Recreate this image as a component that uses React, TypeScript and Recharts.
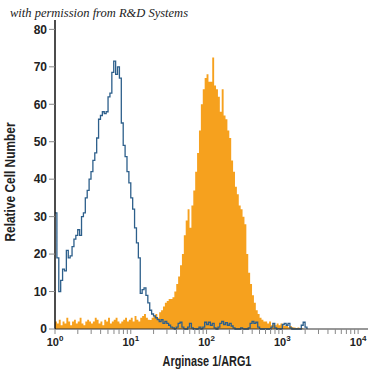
import React from "react";
import { ComposedChart, Area, Line, XAxis, YAxis } from "recharts";

// histogram channels: 40 bins per decade, starting at 10^0
const binsPerDecade = 40;

// isotype control (blue outline)
const isotypeCounts = [
  31, 19, 10, 13, 16, 15.5, 21, 19, 19.5, 22,
  24, 25, 26.5, 25, 30, 31, 35, 37, 40, 42,
  45, 47, 51, 56, 57, 58, 57.5, 58, 62, 63,
  68.5, 71.5, 68, 70, 67, 55, 49, 46, 42, 39,
  35, 32, 27, 23, 19, 9.5, 10.5, 11, 9, 7,
  5, 4, 3.5, 3, 2.5, 2, 2.5, 1.5, 2, 1.5,
  1, 0.5, 0.3, 0, 0.5, 1.5, 1.8, 0.5, 0, 0,
  0.5, 1.5, 0.3, 0, 0, 0, 0.5, 0, 0.5, 1.8,
  1.2, 1.8, 1, 1.5, 0.3, 0, 0.5, 1.5, 2, 1.2,
  1.7, 1, 1.5, 0.8, 0.3, 0, 0, 0, 0.3, 0,
  0, 0, 0.3, 1.5, 2, 1.5, 1.8, 0.5, 0, 0,
  0, 0, 0, 0, 0.5, 1.5, 0.3, 0, 0, 0,
  1.2, 1.5, 1, 1.5, 0.3, 0, 0, 0, 0, 0,
  1, 1.8, 0.5, 0,
];

// Arginase 1 stained cells (orange fill)
const stainedCounts = [
  2, 1.5, 2.5, 1, 2, 1.5, 3, 2, 1, 2,
  2.5, 1.5, 2, 3, 1.5, 1, 2, 2.5, 2, 1.5,
  2, 3, 2.5, 1.5, 2, 1, 2.5, 2, 3, 1.5,
  2, 2.5, 3, 2, 1.5, 2, 2.5, 3, 2, 2.5,
  3, 2, 3.5, 2.5, 2, 3, 3.5, 4, 3, 2.5,
  2.4, 3, 3.5, 4, 3, 4.5, 5, 6, 7, 7.5,
  8, 8, 8.5, 10, 12, 14, 17, 20, 25, 29,
  32, 27, 33, 37, 42, 47, 53, 60, 64, 67,
  68, 66, 66, 72.5, 65, 64, 62, 58, 64, 57,
  56, 53, 51, 45, 42, 38, 36, 33, 32, 30,
  28, 20, 15, 12, 9, 7, 5, 4, 3, 2.5,
  2, 2, 1.5, 2, 1, 1.5, 1, 1.5, 1, 1.5,
  1, 0.8, 1.2, 0.5, 0.8, 0.5, 0.4, 0.3, 0.4, 0.2,
  0.2, 0,
];

const decades = [1, 10, 100, 1000, 10000];
const yTicks = [0, 10, 20, 30, 40, 50, 60, 70, 80];

const nBins = Math.max(isotypeCounts.length, stainedCounts.length);
const data = Array.from({ length: nBins }, (_, i) => ({
  x: Math.pow(10, i / binsPerDecade),
  isotype: i < isotypeCounts.length ? isotypeCounts[i] : null,
  stained: i < stainedCounts.length ? stainedCounts[i] : null,
}));

// decade ticks plus 2..9 minor ticks
const xTicks: number[] = [];
decades.forEach((d, k) => {
  if (k === decades.length - 1) {
    xTicks.push(d);
    return;
  }
  for (let m = 1; m <= 9; m++) xTicks.push(d * m);
});

const font = "'Liberation Sans', Arial, sans-serif";

const XTick = (props: any) => {
  const { x, y, payload } = props;
  const exp = Math.round(Math.log10(payload.value));
  if (Math.abs(Math.pow(10, exp) - payload.value) > 1e-6) return null;
  return (
    <text x={x} y={y + 10} textAnchor="middle" fontFamily={font} fontWeight="bold" fontSize={11} fill="#222">
      10
      <tspan dy={-5} fontSize={8}>
        {exp}
      </tspan>
    </text>
  );
};

const App = () => (
  <div style={{ position: "absolute", left: 0, top: 0, width: 375, height: 375, background: "#fff" }}>
    <div
      style={{
        position: "absolute",
        left: 10,
        top: 6,
        fontFamily: "'Liberation Serif', serif",
        fontStyle: "italic",
        fontSize: 12.5,
        color: "#222",
        whiteSpace: "nowrap",
        zIndex: 2,
      }}
    >
      with permission from R&amp;D Systems
    </div>
    <div
      style={{
        position: "absolute",
        left: 10,
        top: 182,
        transform: "translate(-50%, -50%) rotate(-90deg) scaleX(0.85)",
        fontFamily: font,
        fontWeight: "bold",
        fontSize: 14,
        lineHeight: "14px",
        color: "#222",
        whiteSpace: "nowrap",
      }}
    >
      Relative Cell Number
    </div>
    <div
      style={{
        position: "absolute",
        left: 207,
        top: 361,
        transform: "translate(-50%, -50%) scaleX(0.75)",
        fontFamily: font,
        fontWeight: "bold",
        fontSize: 14.5,
        lineHeight: "15px",
        color: "#222",
        whiteSpace: "nowrap",
      }}
    >
      Arginase 1/ARG1
    </div>
    <ComposedChart
      width={375}
      height={375}
      data={data}
      margin={{ top: 20, right: 7, left: 0, bottom: 0 }}
    >
      <XAxis
        dataKey="x"
        type="number"
        scale="log"
        domain={[1, 13500]}
        ticks={xTicks}
        interval={0}
        allowDataOverflow
        height={46}
        tickSize={5}
        tick={<XTick />}
        stroke="#333"
        tickLine={{ stroke: "#888" }}
        axisLine={{ stroke: "#333", strokeWidth: 1.2 }}
      />
      <YAxis
        type="number"
        domain={[0, 82.5]}
        ticks={yTicks}
        interval={0}
        width={55}
        tickSize={6}
        tickMargin={2}
        stroke="#333"
        tickLine={{ stroke: "#888" }}
        axisLine={{ stroke: "#111", strokeWidth: 1.5 }}
        tick={{ fontFamily: font, fontWeight: "bold", fontSize: 12, fill: "#222" }}
      />
      <Area
        dataKey="stained"
        type="stepAfter"
        stroke="none"
        fill="#F6A11E"
        fillOpacity={1}
        isAnimationActive={false}
        connectNulls={false}
      />
      <Line
        dataKey="isotype"
        type="stepAfter"
        stroke="#2D5F8B"
        strokeWidth={1.3}
        dot={false}
        activeDot={false}
        isAnimationActive={false}
        connectNulls={false}
      />
    </ComposedChart>
  </div>
);

export default App;
